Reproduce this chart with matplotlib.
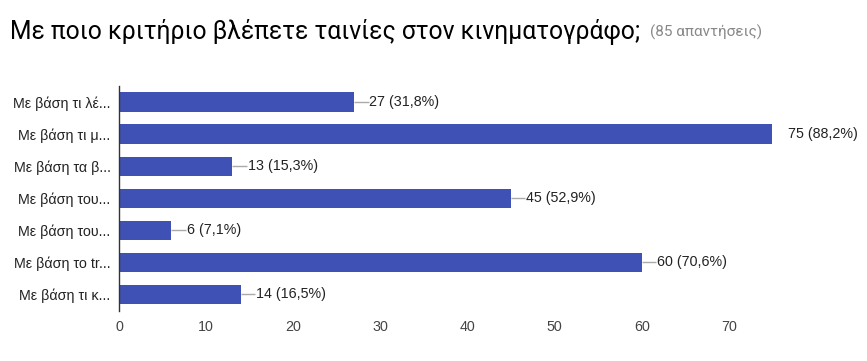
import matplotlib
matplotlib.use("Agg")
import matplotlib.pyplot as plt

categories = ["Με βάση τι λέ...", "Με βάση τι μ...", "Με βάση τα β...", "Με βάση του...",
              "Με βάση του...", "Με βάση το tr...", "Με βάση τι κ..."]
values = [27, 75, 13, 45, 6, 60, 14]
percents = ["31,8%", "88,2%", "15,3%", "52,9%", "7,1%", "70,6%", "16,5%"]
xticks = [0, 10, 20, 30, 40, 50, 60, 70]

plt.rcParams['font.family'] = ['Liberation Sans', 'DejaVu Sans']

fig = plt.figure(figsize=(8.67, 3.61), dpi=100)
ax = fig.add_axes([119/867, 50.5/361, (816-119)/867, (310.5-86)/361])

ypos = list(range(len(categories)))
ax.barh(ypos, values, height=0.6, color="#3f51b5")
ax.set_ylim(len(categories) - 0.5, -0.5)
ax.set_xlim(0, 80)
ax.set_yticks(ypos)
ax.set_yticklabels(categories, fontsize=10.3, color="#222222")
ax.set_xticks(xticks)
ax.set_xticklabels([str(t) for t in xticks], fontsize=10.3, color="#444444")
ax.tick_params(axis='y', length=0, pad=6)
ax.tick_params(axis='x', length=0, pad=7)
for s in ["top", "right", "bottom"]:
    ax.spines[s].set_visible(False)
ax.spines["left"].set_color("#333333")
ax.spines["left"].set_linewidth(1)

vmax = max(values)
for y, v, p in zip(ypos, values, percents):
    if v != vmax:
        ax.plot([v, v + 1.65], [y, y], color="#aaaaaa", lw=1, solid_capstyle="butt")
    ax.text(v + 1.75, y, f"{v} ({p})", va="center", ha="left", fontsize=10.3, color="#222222")

fig.text(10/867, 1 - 32/361, "Με ποιο κριτήριο βλέπετε ταινίες στον κινηματογράφο;",
         fontsize=17.7, family=['Roboto', 'DejaVu Sans'], color="#000000", va="center")
fig.text(650/867, 1 - 32/361, "(85 απαντήσεις)", fontsize=11,
         family=['Roboto', 'DejaVu Sans'], color="#888888", va="center")

fig.savefig("out.png", dpi=100)
